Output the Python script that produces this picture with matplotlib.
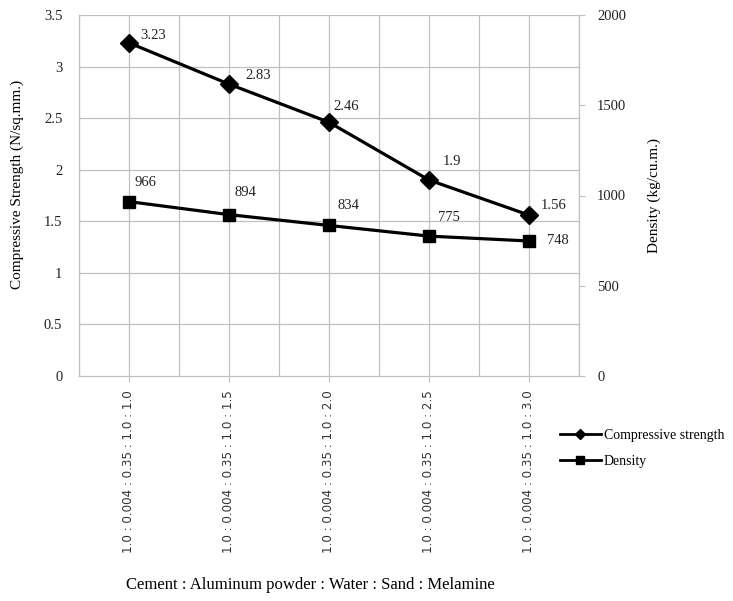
import matplotlib
matplotlib.use("Agg")
import matplotlib.pyplot as plt
from matplotlib.lines import Line2D

categories = ["1.0 : 0.004 : 0.35 : 1.0 : 1.0",
              "1.0 : 0.004 : 0.35 : 1.0 : 1.5",
              "1.0 : 0.004 : 0.35 : 1.0 : 2.0",
              "1.0 : 0.004 : 0.35 : 1.0 : 2.5",
              "1.0 : 0.004 : 0.35 : 1.0 : 3.0"]
strength = [3.23, 2.83, 2.46, 1.9, 1.56]
density = [966, 894, 834, 775, 748]
strength_labels = ["3.23", "2.83", "2.46", "1.9", "1.56"]
density_labels = ["966", "894", "834", "775", "748"]

serif = "Liberation Serif"
plt.rcParams["font.family"] = serif

fig = plt.figure(figsize=(7.33, 6.01), dpi=100)
ax = fig.add_axes([79/733, 1 - 376/601, 500/733, 361/601])
ax2 = ax.twinx()

x = list(range(len(categories)))
grid_c = "#c0c0c0"
txt_c = "#222222"

ax.set_xlim(-0.5, len(categories) - 0.5)
ax.set_ylim(0, 3.5)
ax.set_yticks([0, 0.5, 1, 1.5, 2, 2.5, 3, 3.5])
ax.set_yticklabels(["0", "0.5", "1", "1.5", "2", "2.5", "3", "3.5"])
ax2.set_ylim(0, 2000)
ax2.set_yticks([0, 500, 1000, 1500, 2000])

# grid
for yv in [0.5, 1, 1.5, 2, 2.5, 3, 3.5]:
    ax.axhline(yv, color=grid_c, lw=0.9, zorder=0)
for xv in [i * 0.5 - 0.5 for i in range(2 * len(categories) + 1)]:
    ax.axvline(xv, color=grid_c, lw=0.9, zorder=0)

for a in (ax, ax2):
    for s in a.spines.values():
        s.set_color(grid_c)
        s.set_linewidth(0.9)
    a.spines["top"].set_visible(False)
ax.spines["right"].set_visible(False)
ax2.spines["left"].set_visible(False)
ax2.spines["bottom"].set_visible(False)

ax.tick_params(axis="y", length=0, pad=12, labelsize=10.5, labelcolor=txt_c)
ax.tick_params(axis="x", length=4, color=grid_c, pad=6, labelsize=8.6)
ax2.tick_params(axis="y", length=4, color=grid_c, direction="out", pad=9,
                labelsize=10.5, labelcolor=txt_c)

ax.set_xticks(x)
ax.set_xticklabels(categories, rotation=90, family="DejaVu Sans", color="#333333",
                   fontsize=8.6)

ax.plot(x, strength, color="black", lw=2.3, marker="D", markersize=9, zorder=5,
        clip_on=False)
ax2.plot(x, density, color="black", lw=2.3, marker="s", markersize=9, zorder=5,
         clip_on=False)

s_off = [(8, 5), (11.5, 6), (3, 11), (10, 13), (8.6, 7)]
d_off = [(4.3, 13.7), (4.3, 16), (5.8, 14.4), (6.5, 13.7), (13, 0)]
for i in x:
    ax.annotate(strength_labels[i], (x[i], strength[i]), xytext=s_off[i],
                textcoords="offset points", fontsize=10.5, ha="left", va="center",
                color=txt_c)
    ax2.annotate(density_labels[i], (x[i], density[i]), xytext=d_off[i],
                 textcoords="offset points", fontsize=10.5, ha="left", va="center",
                 color=txt_c)

ax.set_ylabel("Compressive Strength (N/sq.mm.)", fontsize=11)
ax.yaxis.set_label_coords((24 - 79) / 500, 0.53)
ax2.set_ylabel("Density (kg/cu.m.)", fontsize=11)
ax2.yaxis.set_label_coords((648 - 79) / 500, 0.5)

fig.text(310/733, 1 - 585/601, "Cement : Aluminum powder : Water : Sand : Melamine",
         ha="center", va="center", fontsize=12)

handles = [Line2D([], [], color="black", lw=2, marker="D", markersize=5),
           Line2D([], [], color="black", lw=2, marker="s", markersize=6)]
fig.legend(handles, ["Compressive strength", "Density"], loc="upper left",
           bbox_to_anchor=(547/733, 1 - 416/601), frameon=False, fontsize=10,
           handlelength=3.0, handletextpad=0.2, labelspacing=0.95)

fig.savefig("out.png", dpi=100)
